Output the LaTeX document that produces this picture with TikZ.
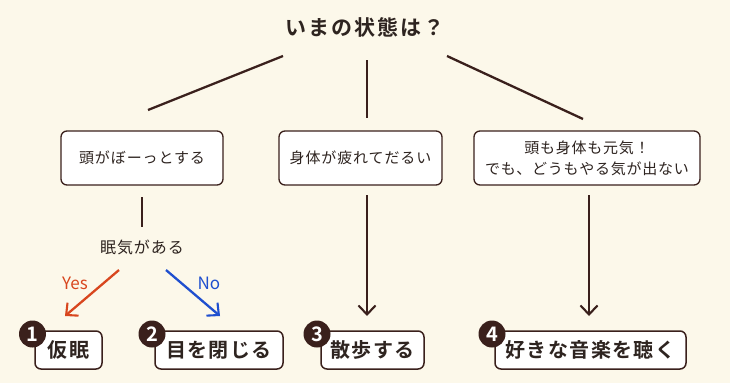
\documentclass[tikz,border=0pt]{standalone}
\usepackage{fontspec}
\setmainfont{Noto Sans CJK JP}
\newfontfamily\jpb{Noto Sans CJK JP Bold}
\usetikzlibrary{arrows.meta}
\definecolor{bg}{HTML}{FCF8EA}
\definecolor{ink}{HTML}{3A201C}
\definecolor{txt}{HTML}{2E2420}
\definecolor{yesc}{HTML}{D8461E}
\definecolor{noc}{HTML}{1F4FCF}
\tikzset{
  qbox/.style={draw=ink, line width=1.3pt, rounded corners=6pt, fill=white, text=txt, align=center, inner sep=0pt},
  abox/.style={draw=ink, line width=1.5pt, rounded corners=6pt, fill=white, text=txt, inner sep=0pt, minimum height=38pt},
  badge/.style={circle, fill=ink, text=white, minimum size=27pt, inner sep=0pt, font=\jpb\fontsize{20}{20}\selectfont},
  link/.style={draw=ink, line width=2.3pt},
  arr/.style={link, -{Straight Barb[length=9pt, width=17pt, line width=2.1pt]}},
}
\begin{document}
\begin{tikzpicture}[x=1pt,y=-1pt]
\fill[bg] (0,0) rectangle (730,383);
\useasboundingbox (0,0) rectangle (730,383);
\node[text=txt, font=\jpb\fontsize{21}{21}\selectfont\addfontfeature{LetterSpace=9}] (title) at (365,27) {いまの状態は？};
% first-row boxes
\node[qbox, minimum width=162pt, minimum height=54pt, font=\fontsize{15}{15}\selectfont\addfontfeature{LetterSpace=6}] (a) at (142,158) {頭がぼーっとする};
\node[qbox, minimum width=163pt, minimum height=54pt, font=\fontsize{15}{15}\selectfont\addfontfeature{LetterSpace=6}] (b) at (360.5,158) {身体が疲れてだるい};
\node[qbox, minimum width=226pt, minimum height=54pt, font=\fontsize{15}{21}\selectfont\addfontfeature{LetterSpace=5}] (c) at (587,158) {頭も身体も元気！\\でも、どうもやる気が出ない};
% connectors from title
\coordinate (t1) at (283,56); \coordinate (a1) at (148,110);
\coordinate (t2) at (367,60); \coordinate (b1) at (367,118);
\coordinate (t3) at (447,56); \coordinate (c1) at (583,119);
\draw[link] (t1) -- (a1);
\draw[link] (t2) -- (b1);
\draw[link] (t3) -- (c1);
% sleepy question
\node[text=txt, font=\fontsize{16}{16}\selectfont\addfontfeature{LetterSpace=6}] (q) at (142,247) {眠気がある};
\coordinate (a2) at (142,197); \coordinate (q1) at (142,227);
\draw[link] (a2) -- (q1);
% answer boxes
\node[abox, minimum width=67pt, font=\jpb\fontsize{20}{20}\selectfont\addfontfeature{LetterSpace=7}] (r1) at (68.5,350) {仮眠};
\node[abox, minimum width=128pt, font=\jpb\fontsize{20}{20}\selectfont\addfontfeature{LetterSpace=7}] (r2) at (219,350) {目を閉じる};
\node[abox, minimum width=103pt, font=\jpb\fontsize{20}{20}\selectfont\addfontfeature{LetterSpace=7}] (r3) at (372.5,350) {散歩する};
\node[abox, minimum width=191pt, font=\jpb\fontsize{20}{20}\selectfont\addfontfeature{LetterSpace=7}] (r4) at (590.5,350) {好きな音楽を聴く};
\node[badge] (n1) at (32.5,334) {1};
\node[badge] (n2) at (152,334) {2};
\node[badge] (n3) at (317,334) {3};
\node[badge] (n4) at (492,334) {4};
% arrows
\coordinate (y0) at (119,270); \coordinate (y1) at (65,316);
\coordinate (o0) at (166,270); \coordinate (o1) at (220,316);
\draw[arr, draw=yesc] (y0) -- (y1);
\draw[arr, draw=noc] (o0) -- (o1);
\node[text=yesc, font=\fontsize{17}{17}\selectfont] (yes) at (75,283) {Yes};
\node[text=noc, font=\fontsize{17}{17}\selectfont] (no) at (209,283) {No};
\coordinate (b2) at (367,195); \coordinate (r3t) at (367,316);
\coordinate (c2) at (589,195); \coordinate (r4t) at (589,316);
\draw[arr] (b2) -- (r3t);
\draw[arr] (c2) -- (r4t);
\end{tikzpicture}
\end{document}
